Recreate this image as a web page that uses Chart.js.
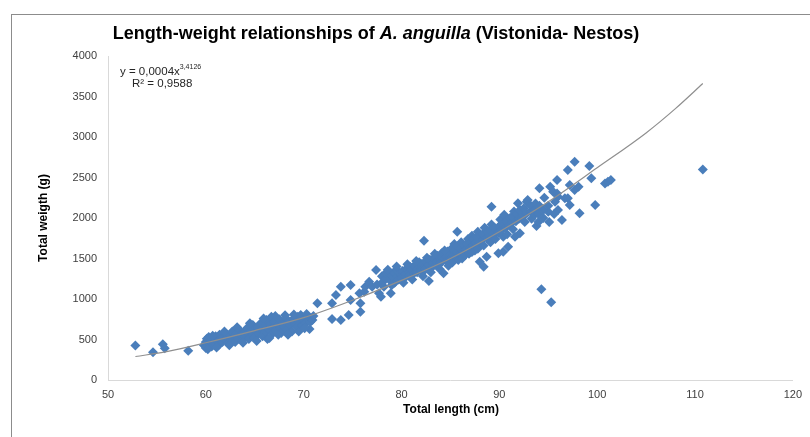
<!DOCTYPE html>
<html>
<head>
<meta charset="utf-8">
<script src="https://cdn.jsdelivr.net/npm/chart.js@4.4.1/dist/chart.umd.min.js"></script>
<style>
    body { margin: 0; background: #ffffff; }
    #LengthWeightCanvas { display: block; }
</style>
</head>
<body>
<canvas id="LengthWeightCanvas" width="810" height="437"></canvas>
<script>
// Eel samples, [total length (cm), total weight (g)]
const smallEels = [[52.8,425],[54.6,342],[55.6,440],[55.8,392],[58.2,362]];

const lowCluster = [
    [59.8,430],[60.0,470],[60.0,395],[60.1,510],[60.3,450],[60.3,530],[60.5,480],[60.6,415],[60.8,500],[60.9,455],
    [61.0,540],[61.2,480],[61.3,430],[61.4,560],[61.5,505],[61.7,470],[61.8,535],[62.0,490],[62.0,575],[62.2,520],
    [62.3,455],[62.5,545],[62.6,500],[62.7,600],[62.9,530],[63.0,470],[63.1,570],[63.3,510],[63.4,620],[63.6,555],
    [63.7,490],[63.9,590],[64.0,535],[64.2,640],[64.3,575],[64.4,505],[64.6,610],[64.8,560],[64.8,680],[65.0,520],
    [65.1,600],[65.3,650],[65.4,570],[65.6,700],[65.7,620],[65.8,540],[66.0,660],[66.1,590],[66.2,740],[66.3,505],
    [66.4,630],[66.6,690],[66.7,780],[66.8,570],[66.9,650],[67.0,720],[67.2,610],[67.3,680],[67.5,750],[67.6,640],
    [67.7,580],[67.9,700],[68.0,660],[68.2,760],[68.3,620],[68.5,720],[68.6,680],[68.8,600],[68.9,750],[69.1,700],
    [69.3,650],[69.4,780],[69.6,720],[69.7,802],[69.8,670],[70.0,745],[70.2,700],[70.4,770],[70.6,630],[70.7,720],
    [70.9,741],[71.0,790],[71.4,947],
    [60.2,380],[60.7,545],[61.1,400],[61.9,600],[62.4,430],[63.2,650],[63.8,460],[64.5,700],[65.2,480],[65.9,760],
    [66.5,520],[67.1,790],[67.4,560],[68.1,800],[68.4,560],[69.0,810],[69.5,600],[70.3,815],[70.1,640]
];

const midSpread = [
    [72.9,947],[72.9,752],[73.3,1049],[73.8,741],[73.8,1152],[74.6,802],[74.8,988],[74.8,1173],[75.7,1070],[75.8,947],
    [75.8,843],[76.2,1090],[76.3,1152],[76.7,1214],[77.0,1150],[77.4,1358],[77.5,1180],[77.7,1070],[77.9,1028]
];

const mainBand = [
    [78.0,1200],[78.0,1280],[78.4,1250],[78.4,1320],[78.8,1230],[78.9,1070],[78.9,1290],[79.2,1260],[79.2,1330],[79.3,1200],
    [79.6,1280],[79.6,1350],[79.7,1240],[80.0,1300],[80.0,1260],[80.1,1345],[80.4,1310],[80.4,1270],[80.5,1375],[80.8,1330],
    [80.8,1290],[80.9,1395],[81.0,1360],[81.2,1350],[81.2,1310],[81.3,1410],[81.6,1370],[81.6,1330],[81.7,1425],[81.8,1455],
    [82.0,1380],[82.0,1350],[82.1,1435],[82.3,1720],[82.4,1400],[82.4,1360],[82.5,1465],[82.8,1222],[82.8,1420],[82.9,1485],
    [83.2,1440],[83.2,1400],[83.3,1505],[83.6,1460],[83.6,1420],[83.7,1535],[84.0,1480],[84.0,1440],[84.1,1565],[84.2,1510],
    [84.3,1317],[84.4,1500],[84.6,1520],[84.6,1470],[84.7,1585],[85.0,1500],[85.0,1560],[85.1,1620],[85.2,1450],[85.3,1540],
    [85.4,1600],[85.4,1680],[85.6,1520],[85.6,1580],[85.7,1650],[85.7,1831],[85.8,1480],[86.0,1560],[86.0,1620],[86.1,1700],
    [86.2,1500],[86.3,1590],[86.4,1660],[86.5,1540],[86.6,1610],[86.7,1680],[86.8,1740],[86.9,1560],[87.0,1640],[87.1,1700],
    [87.2,1580],[87.2,1780],[87.3,1660],[87.4,1740],[87.5,1600],[87.6,1690],[87.7,1760],[87.8,1620],[87.8,1830],[88.0,1460],
    [88.0,1700],[88.1,1780],[88.3,1730],[88.3,1800],[88.4,1399],[88.4,1660],[88.5,1880],[88.7,1522],[88.7,1760],[88.8,1830],
    [89.0,1780],[89.0,1850],[89.1,1700],[89.2,2140],[89.2,1920],[89.4,1800],[89.5,1880],[89.6,1740],[89.9,1564],[89.9,1820],
    [90.0,1900],[90.1,1980],[90.2,1850],[90.3,1930],[90.4,1584],[90.4,1770],[90.5,2040],[90.6,1880],[90.7,1960],[90.8,1800],
    [90.9,1646],[91.0,1910],[91.1,2000],[91.3,1940],[91.3,2020],[91.4,1860],[91.5,2080],[91.6,1770],[91.7,1960],[91.8,2050],
    [91.9,2181],[92.0,1990],[92.1,1811],[92.1,2100],[92.3,2000],[92.4,2030],[92.5,2120],[92.6,1950],[92.8,2201],[92.8,2060],
    [92.9,2222],[93.2,2080],[93.2,2150],[93.3,1990],[93.6,2100],[93.6,2040],[93.7,2180],[93.8,1900],[94.0,1950],[94.0,2050],
    [94.1,2150],
    [78.2,1150],[78.6,1360],[79.0,1170],[79.5,1400],[80.2,1200],[80.6,1430],[81.1,1240],[81.5,1470],[82.2,1280],[82.6,1510],
    [83.0,1330],[83.4,1560],[83.9,1370],[84.4,1600],[84.8,1410]
];

const largeEels = [
    [94.1,2366],[94.5,2000],[94.5,2100],[94.6,2250],[95.0,2078],[95.0,2150],[95.1,1950],[95.2,2387],[95.5,2325],[95.6,2050],
    [95.7,2200],[95.9,2304],[95.9,2469],[96.0,2100],[96.0,2263],[96.4,1975],[96.7,2243],[97.0,2593],[97.0,2243],[97.2,2407],
    [97.2,2160],[97.7,2695],[97.7,2346],[98.1,2387],[98.2,2058],[99.2,2642],[99.4,2490],[99.8,2160],[100.8,2427],[101.1,2448],
    [101.4,2470]
];

const outliers = [[94.3,1120],[95.3,960],[110.8,2600]];

// Power trendline
const trendLength = [52.8, 56, 60, 65, 70, 75, 80, 85, 90, 95, 100, 105, 108, 110.8];
const trendWeight = [290, 350, 460, 610, 770, 985, 1230, 1500, 1830, 2200, 2620, 3050, 3350, 3660];

const titleParts = [
    { text: "Length-weight relationships of ", italic: false },
    { text: "A. anguilla", italic: true },
    { text: " (Vistonida- Nestos)", italic: false }
];
const xAxisTitle = "Total length (cm)";
const yAxisTitle = "Total weigth (g)";
const equationText = "y = 0,0004x";
const equationPower = "3,4126";
const rSquaredText = "R² = 0,9588";

const FONT = '"Liberation Sans", Arial, sans-serif';

function toPoints(list){
    return list.map(p => ({ x: p[0], y: p[1] }));
}

// Frame, title, axis titles and trendline label
const chartText = {
    id: 'chartText',
    beforeDraw(chart){
        const ctx = chart.ctx;
        ctx.save();
        ctx.fillStyle = "#ffffff";
        ctx.fillRect(0, 0, chart.width, chart.height);
        ctx.strokeStyle = "#8c8c8c";
        ctx.lineWidth = 1;
        ctx.strokeRect(11.5, 14.5, chart.width + 20, chart.height + 20);
        ctx.restore();
    },
    afterDraw(chart){
        const ctx = chart.ctx;
        ctx.save();
        ctx.fillStyle = "#000000";
        ctx.textBaseline = "middle";

        // Title (mixed italic)
        let total = 0;
        titleParts.forEach(part => {
            ctx.font = (part.italic ? "italic " : "") + "bold 18px " + FONT;
            part.width = ctx.measureText(part.text).width;
            total += part.width;
        });
        let x = 376 - total / 2;
        titleParts.forEach(part => {
            ctx.font = (part.italic ? "italic " : "") + "bold 18px " + FONT;
            ctx.textAlign = "left";
            ctx.fillText(part.text, x, 34);
            x += part.width;
        });

        // Axis titles
        ctx.font = "bold 12px " + FONT;
        ctx.textAlign = "center";
        ctx.fillText(xAxisTitle, 451, 410);
        ctx.save();
        ctx.translate(44, 218);
        ctx.rotate(-Math.PI / 2);
        ctx.fillText(yAxisTitle, 0, 0);
        ctx.restore();

        // Trendline equation
        ctx.fillStyle = "#262626";
        ctx.textAlign = "left";
        ctx.font = "11.5px " + FONT;
        ctx.fillText(equationText, 120, 72);
        const eqW = ctx.measureText(equationText).width;
        ctx.font = "7px " + FONT;
        ctx.fillText(equationPower, 120 + eqW, 67);
        ctx.font = "11.5px " + FONT;
        ctx.fillText(rSquaredText, 132, 84);
        ctx.restore();
    }
};

let lengthWeightGraph;
window.addEventListener('load', initLengthWeightGraph);

function initLengthWeightGraph(){
    const ctx = document.getElementById("LengthWeightCanvas").getContext("2d");
    const samples = [].concat(smallEels, lowCluster, midSpread, mainBand, largeEels, outliers);

    lengthWeightGraph = new Chart(ctx, {
        type: 'scatter',
        data: {
            datasets: [{
                label: "Trendline",
                type: 'line',
                data: trendLength.map((v, i) => ({ x: v, y: trendWeight[i] })),
                borderColor: "#8f8f8f",
                borderWidth: 1.2,
                pointRadius: 0,
                fill: false,
                cubicInterpolationMode: 'monotone',
                order: 0
            }, {
                label: "Samples",
                data: toPoints(samples),
                pointStyle: 'rectRot',
                pointRadius: 5,
                pointBorderWidth: 0,
                backgroundColor: "#4a7ebb",
                borderColor: "#4a7ebb",
                order: 1
            }]
        },
        options: {
            animation: false,
            responsive: false,
            devicePixelRatio: 1,
            layout: { padding: { top: 56, right: 15, left: 0, bottom: 0 } },
            plugins: {
                legend: { display: false },
                tooltip: { enabled: false }
            },
            scales: {
                x: {
                    type: 'linear',
                    min: 50,
                    max: 120,
                    ticks: { stepSize: 10, padding: 8, color: "#404040", font: { family: FONT, size: 11 },
                             callback: v => String(v) },
                    grid: { display: false, drawTicks: false },
                    border: { color: "#d9d9d9" },
                    afterFit: scale => { scale.height = 57; }
                },
                y: {
                    min: 0,
                    max: 4000,
                    ticks: { stepSize: 500, padding: 11, color: "#404040", font: { family: FONT, size: 11 },
                             callback: v => String(v) },
                    grid: { display: false, drawTicks: false },
                    border: { color: "#d9d9d9" },
                    afterFit: scale => { scale.width = 108; }
                }
            }
        },
        plugins: [chartText]
    });
}
</script>
</body>
</html>
